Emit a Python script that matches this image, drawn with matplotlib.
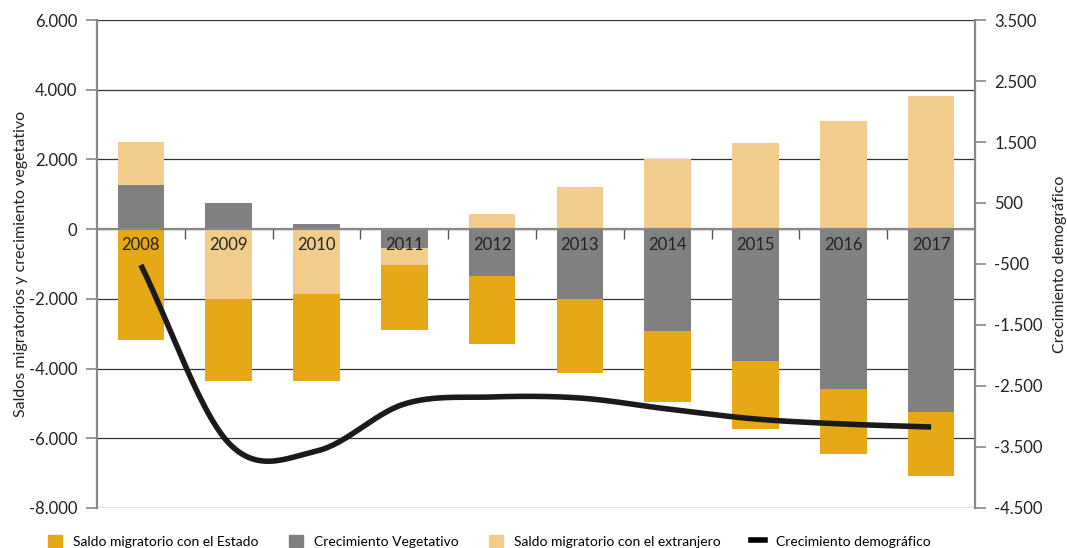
import numpy as np
import matplotlib
matplotlib.use('Agg')
import matplotlib.pyplot as plt
from matplotlib.patches import Patch
from matplotlib.lines import Line2D
from matplotlib.ticker import FuncFormatter

plt.rcParams['font.family'] = ['Lato', 'DejaVu Sans']

years = ['2008', '2009', '2010', '2011', '2012', '2013', '2014', '2015', '2016', '2017']
estado = [-3190, -2350, -2500, -1870, -1950, -2140, -2040, -1950, -1840, -1810]      # saldo migratorio con el Estado
vegetativo = [1260, 750, 160, -545, -1350, -2000, -2930, -3790, -4600, -5260]     # crecimiento vegetativo
extranjero = [1240, -2010, -1865, -490, 430, 1205, 2000, 2470, 3100, 3820]       # saldo migratorio con el extranjero
demografico = [-516, -3434, -3566, -2795, -2680, -2697, -2877, -3041, -3123, -3172]

c_estado = '#E6A817'
c_veg = '#808080'
c_ext = '#F2CC8A'


def fmt(v, pos):
    s = '{:,.0f}'.format(v).replace(',', '.')
    return s


def smooth(x, y, n=30):											# catmull-rom, like the excel smoothed line
    x = np.asarray(x, float)
    y = np.asarray(y, float)
    m = np.zeros_like(y)
    m[1:-1] = (y[2:] - y[:-2]) / 2
    m[0] = y[1] - y[0]
    m[-1] = y[-1] - y[-2]
    xs, ys = [], []
    for i in range(len(x) - 1):
        t = np.linspace(0, 1, n, endpoint=(i == len(x) - 2))
        h00 = 2*t**3 - 3*t**2 + 1
        h10 = t**3 - 2*t**2 + t
        h01 = -2*t**3 + 3*t**2
        h11 = t**3 - t**2
        xs.append(x[i] + t*(x[i+1] - x[i]))
        ys.append(h00*y[i] + h10*m[i] + h01*y[i+1] + h11*m[i+1])
    return np.concatenate(xs), np.concatenate(ys)


fig = plt.figure(figsize=(10.67, 5.48), dpi=100)
ax = fig.add_axes([0.0909, 0.073, 0.8229, 0.8905])
ax2 = ax.twinx()

x = np.arange(len(years))
w = 0.53

# stack positives and negatives separately: vegetativo next to zero, then extranjero, then estado
pos_base = np.zeros(len(x))
neg_base = np.zeros(len(x))
for vals, col in [(vegetativo, c_veg), (extranjero, c_ext), (estado, c_estado)]:
    vals = np.array(vals, float)
    bottom = np.where(vals >= 0, pos_base, neg_base)
    ax.bar(x, vals, w, bottom=bottom, color=col, zorder=3, linewidth=0)
    pos_base += np.where(vals >= 0, vals, 0)
    neg_base += np.where(vals < 0, vals, 0)

for i, yr in enumerate(years):
    ax.text(i, -230, yr, ha='center', va='top', fontsize=12, color='#222222', zorder=5)

ax.set_xlim(-0.5, 9.5)
ax.set_ylim(-8000, 6000)
ax.set_yticks(np.arange(-8000, 6001, 2000))
ax.yaxis.set_major_formatter(FuncFormatter(fmt))
ax.yaxis.grid(True, color='#333333', linewidth=0.9, zorder=0)
ax.set_axisbelow(True)

ax.set_xticks(np.arange(0.5, 9, 1))
ax.set_xticklabels([])
ax.tick_params(axis='x', direction='out', length=7, color='#555555', width=1)
ax.spines['bottom'].set_position(('data', 0))
ax.spines['bottom'].set_color('#888888')
ax.spines['bottom'].set_linewidth(1.6)
ax.spines['bottom'].set_zorder(4)
ax.spines['top'].set_visible(False)
ax.spines['right'].set_visible(False)
ax.spines['left'].set_color('#888888')
ax.spines['left'].set_linewidth(1.6)
ax.tick_params(axis='y', direction='out', length=8, color='#888888', width=1.2,
               labelsize=12, labelcolor='#222222', pad=6)
ax.set_ylabel('Saldos migratorios y crecimiento vegetativo', fontsize=11.5, color='#222222', labelpad=1)

lx, ly = smooth(x, demografico)
ax2.plot(lx, ly, color='#1a1a1a', linewidth=4, solid_capstyle='butt', zorder=6)
ax2.set_ylim(-4500, 3500)
ax2.set_yticks(np.arange(-4500, 3501, 1000))
ax2.yaxis.set_major_formatter(FuncFormatter(fmt))
for s in ['top', 'left', 'bottom']:
    ax2.spines[s].set_visible(False)
ax2.spines['right'].set_color('#888888')
ax2.spines['right'].set_linewidth(1.6)
ax2.tick_params(axis='y', direction='out', length=8, color='#888888', width=1.2,
                labelsize=12, labelcolor='#222222', pad=6)
ax2.set_ylabel('Crecimiento demográfico', fontsize=11.5, color='#222222', labelpad=7)

handles = [Patch(color=c_estado, label='Saldo migratorio con el Estado'),
           Patch(color=c_veg, label='Crecimiento Vegetativo'),
           Patch(color=c_ext, label='Saldo migratorio con el extranjero'),
           Line2D([0], [0], color='black', linewidth=4, label='Crecimiento demográfico')]
fig.legend(handles=handles, loc='lower left', bbox_to_anchor=(0.033, -0.022), ncol=4, frameon=False,
           fontsize=10, handlelength=1.0, handleheight=1.0, handletextpad=0.8, columnspacing=2.2)

fig.savefig('out.png', dpi=100)
